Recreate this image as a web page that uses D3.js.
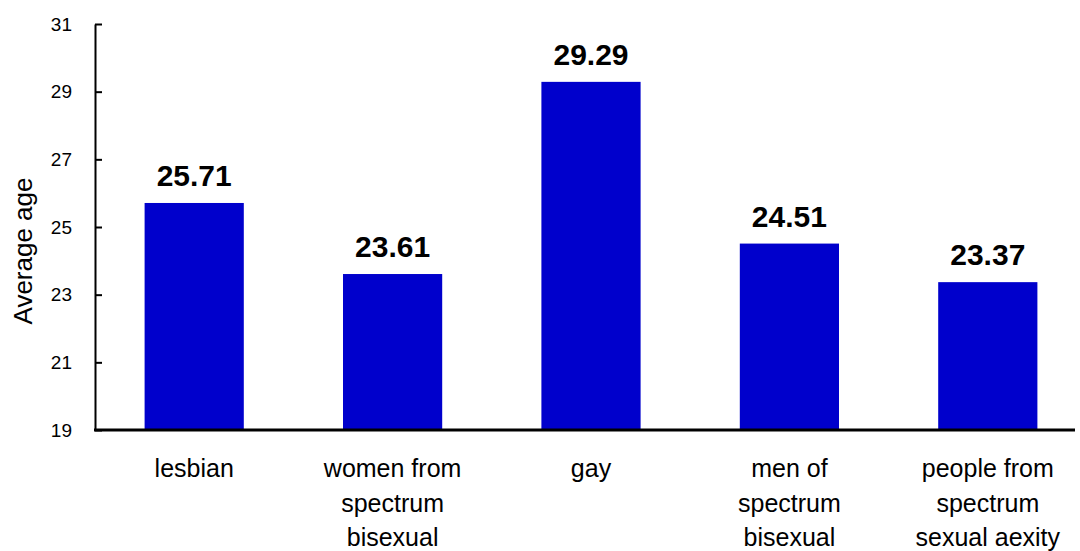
<!DOCTYPE html>
<html>
<head>
<meta charset="utf-8">
<script src="https://cdn.jsdelivr.net/npm/d3@7"></script>
<style>
    body { margin: 0; background: #fff; }
    svg text { font-family: "Liberation Sans", Arial, sans-serif; fill: #000; }
</style>
</head>
<body>
<div id="chart"></div>
<script>
// chart data
const groups = [
    ["lesbian"],
    ["women from", "spectrum", "bisexual"],
    ["gay"],
    ["men of", "spectrum", "bisexual"],
    ["people from", "spectrum", "sexual aexity"]
];
const ages = [25.71, 23.61, 29.29, 24.51, 23.37];
const yTicks = [19, 21, 23, 25, 27, 29, 31];

const width = 1080;
const height = 551;

const svg = d3.select("#chart")
    .append("svg")
    .attr("width", width)
    .attr("height", height);

const x = d3.scaleBand()
    .domain(d3.range(groups.length))
    .range([95, 1087])
    .paddingInner(0.5)
    .paddingOuter(0.25);

const y = d3.scaleLinear()
    .domain([19, 31])
    .range([430, 24]);

// bars
svg.append("g")
    .selectAll("rect")
    .data(ages)
    .enter()
    .append("rect")
    .attr("x", (d, i) => x(i))
    .attr("y", d => y(d))
    .attr("width", x.bandwidth())
    .attr("height", d => y(19) - y(d))
    .attr("fill", "#0000cc");

// value labels
svg.append("g")
    .selectAll("text")
    .data(ages)
    .enter()
    .append("text")
    .attr("x", (d, i) => x(i) + x.bandwidth() / 2)
    .attr("y", d => y(d) - 17)
    .attr("text-anchor", "middle")
    .style("font-size", "30px")
    .style("font-weight", "bold")
    .text(d => d.toFixed(2));

// y axis
const yAxis = svg.append("g")
    .attr("transform", "translate(95,0)")
    .call(d3.axisLeft(y).tickValues(yTicks).tickSizeInner(-7).tickSizeOuter(0).tickPadding(23));

yAxis.select(".domain").attr("stroke", "#000").attr("stroke-width", 2);
yAxis.selectAll(".tick line").attr("stroke", "#000").attr("stroke-width", 2);
yAxis.selectAll(".tick text")
    .style("font-size", "19px")
    .attr("fill", "#000");

// x axis line
svg.append("line")
    .attr("x1", 94)
    .attr("x2", 1075)
    .attr("y1", y(19))
    .attr("y2", y(19))
    .attr("stroke", "#000")
    .attr("stroke-width", 3);

// category labels
const catLabels = svg.append("g")
    .selectAll("text")
    .data(groups)
    .enter()
    .append("text")
    .attr("text-anchor", "middle")
    .style("font-size", "25px")
    .attr("transform", (d, i) => `translate(${x(i) + x.bandwidth() / 2},477)`);

catLabels.selectAll("tspan")
    .data(d => d)
    .enter()
    .append("tspan")
    .attr("x", 0)
    .attr("y", (d, i) => i * 34.5)
    .text(d => d);

// y axis title
svg.append("text")
    .attr("transform", "translate(32,251) rotate(-90)")
    .attr("text-anchor", "middle")
    .style("font-size", "26px")
    .text("Average age");
</script>
</body>
</html>
